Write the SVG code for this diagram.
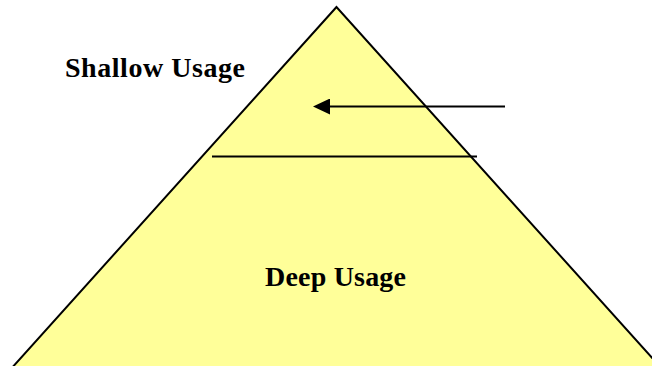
<svg xmlns="http://www.w3.org/2000/svg" width="652" height="366" viewBox="0 0 652 366">
<style>
.lbl{font-family:"Liberation Serif","Times New Roman",serif;font-weight:bold;font-size:28px;fill:#000}
.ln{stroke:#000;stroke-width:2;fill:none}
</style>
<defs>
<marker id="ah" markerUnits="userSpaceOnUse" markerWidth="18" markerHeight="16" refX="0" refY="8" orient="auto-start-reverse">
<path d="M0,0 L17,8 L0,16 Z" fill="#000"/>
</marker>
</defs>
<rect width="652" height="366" fill="#fff"/>
<g id="pyramid">
<polygon points="336.5,7 10,370 663,370" fill="#FFFF99" stroke="#000" stroke-width="2"/>
</g>
<g id="shallow">
<text class="lbl" x="65" y="77" textLength="180" lengthAdjust="spacing">Shallow Usage</text>
</g>
<g id="deep">
<text class="lbl" x="265" y="286" textLength="141" lengthAdjust="spacing">Deep Usage</text>
</g>
<g id="connectors">
<line class="ln" x1="212" y1="156.5" x2="477" y2="156.5"/>
<line class="ln" x1="505" y1="106.5" x2="330" y2="106.5" marker-end="url(#ah)"/>
</g>
</svg>
